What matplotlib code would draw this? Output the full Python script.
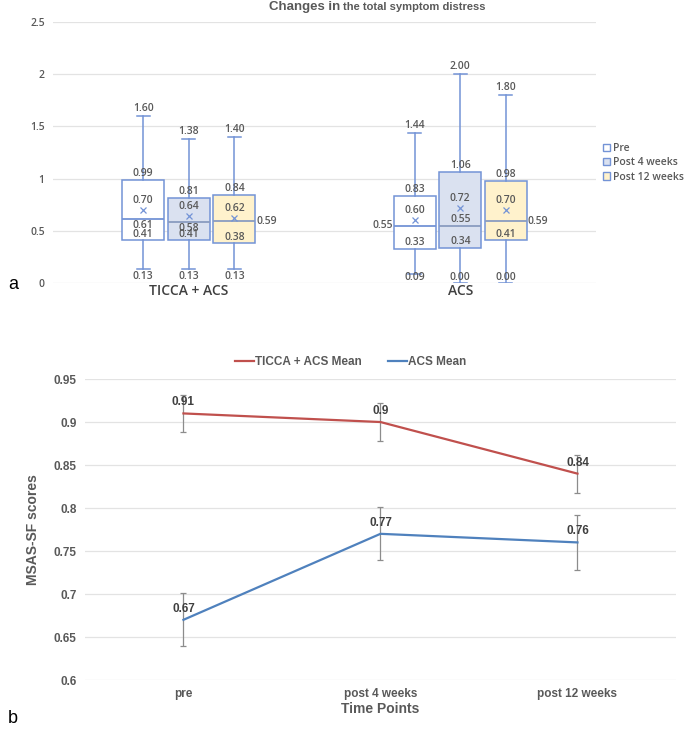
import numpy as np
import matplotlib
matplotlib.use('Agg')
import matplotlib.pyplot as plt
from matplotlib.patches import Patch
from matplotlib.lines import Line2D

# --- panel a: box plots ---
groups = ['TICCA + ACS', 'ACS']
series = ['Pre', 'Post 4 weeks', 'Post 12 weeks']
mins = [[0.13, 0.13, 0.13], [0.09, 0.00, 0.00]]
q1s = [[0.41, 0.41, 0.38], [0.33, 0.34, 0.41]]
medians = [[0.61, 0.58, 0.59], [0.55, 0.55, 0.59]]
q3s = [[0.99, 0.81, 0.84], [0.83, 1.06, 0.98]]
maxs = [[1.60, 1.38, 1.40], [1.44, 2.00, 1.80]]
means = [[0.70, 0.64, 0.62], [0.60, 0.72, 0.70]]
# where the median label goes: below / right / left / above
median_pos = [['below', 'below', 'right'], ['left', 'above', 'right']]

# --- panel b: mean lines ---
time_points = ['pre', 'post 4 weeks', 'post 12 weeks']
ticca_mean = [0.91, 0.90, 0.84]
ticca_err = [0.022, 0.022, 0.022]
acs_mean = [0.67, 0.77, 0.76]
acs_err = [0.031, 0.031, 0.032]
mean_labels_ticca = ['0.91', '0.9', '0.84']
mean_labels_acs = ['0.67', '0.77', '0.76']

edge = '#7393D6'
fills = ['white', '#DAE1F0', '#FFF2CC']
gray = '#595959'
grid_c = '#E3E3E3'
kfont = 'Open Sans'
kw_weight = 'semibold'

fig = plt.figure(figsize=(6.85, 7.33), dpi=100)

ax = fig.add_axes([0.0774, 0.6139, 0.7927, 0.3561])
width = 0.155
step = 0.168
for g in range(len(groups)):
    for s in range(len(series)):
        x = g + 0.5 + (s - 1) * step
        stats = [dict(med=medians[g][s], q1=q1s[g][s], q3=q3s[g][s],
                      whislo=mins[g][s], whishi=maxs[g][s], mean=means[g][s], fliers=[])]
        ax.bxp(stats, positions=[x], widths=width, showmeans=True, patch_artist=True,
               capwidths=0.048,
               boxprops=dict(facecolor=fills[s], edgecolor=edge, linewidth=1.1),
               whiskerprops=dict(color=edge, linewidth=1.1),
               capprops=dict(color=edge, linewidth=1.1),
               medianprops=dict(color=edge if s == 0 else '#8A9CC0', linewidth=1.3),
               meanprops=dict(marker='x', markeredgecolor=edge, markersize=4.5, markeredgewidth=0.9))
        kw = dict(fontsize=7.5, color=gray, fontweight=kw_weight, ha='center', family=kfont)
        ax.text(x, maxs[g][s] + 0.02, f'{maxs[g][s]:.2f}', va='bottom', **kw)
        ax.text(x, q3s[g][s] + 0.01, f'{q3s[g][s]:.2f}', va='bottom', **kw)
        ax.text(x, means[g][s] + 0.04, f'{means[g][s]:.2f}', va='bottom', **kw)
        ax.text(x, q1s[g][s] + 0.005, f'{q1s[g][s]:.2f}', va='bottom', **kw)
        ax.text(x, max(mins[g][s] - 0.07, 0.05), f'{mins[g][s]:.2f}', va='center', **kw)
        m = medians[g][s]
        p = median_pos[g][s]
        kw2 = dict(kw)
        if p == 'below':
            ax.text(x, m - 0.01, f'{m:.2f}', va='top', **kw2)
        elif p == 'above':
            ax.text(x, m + 0.01, f'{m:.2f}', va='bottom', **kw2)
        elif p == 'right':
            kw2['ha'] = 'left'
            ax.text(x + width / 2 + 0.003, m, f'{m:.2f}', va='center', **kw2)
        else:
            kw2['ha'] = 'right'
            ax.text(x - width / 2 - 0.003, m, f'{m:.2f}', va='center', **kw2)

ax.set_xlim(0, 2)
ax.set_ylim(0, 2.5)
ax.set_yticks(np.arange(0, 2.51, 0.5))
ax.set_yticklabels(['0', '0.5', '1', '1.5', '2', '2.5'], fontsize=7.5, color=gray,
                   fontweight=kw_weight, family=kfont)
ax.set_xticks([0.5, 1.5])
ax.set_xticklabels(groups, fontsize=10, color='#404040', fontweight=kw_weight, family=kfont)
ax.tick_params(length=0, pad=6)
ax.tick_params(axis='x', pad=1)
ax.grid(axis='y', color=grid_c, linewidth=0.9)
ax.set_axisbelow(True)
for sp in ax.spines.values():
    sp.set_visible(False)
fig.text(0.497, 0.99, 'Changes in', fontsize=9.5, color=gray, fontweight='bold',
         ha='right', va='center', family='Liberation Sans')
fig.text(0.501, 0.99, 'the total symptom distress', fontsize=8, color=gray, fontweight='bold',
         ha='left', va='center', family='Liberation Sans')
handles = [Patch(facecolor=fills[i], edgecolor=edge, linewidth=1) for i in range(3)]
leg = ax.legend(handles, series, loc='center left', bbox_to_anchor=(0.995, 0.46), frameon=False,
                prop=dict(size=7.5, weight=kw_weight, family=kfont),
                handlelength=0.7, handleheight=0.7, handletextpad=0.3, labelspacing=0.3)
for t in leg.get_texts():
    t.set_color(gray)
fig.text(0.012, 0.612, 'a', fontsize=13, va='center', family='Liberation Sans')

# --- panel b ---
bx = fig.add_axes([0.124, 0.0723, 0.8628, 0.4106])
xs = np.arange(len(time_points)) + 0.5
red = '#C0504D'
blue = '#4F81BD'
bx.errorbar(xs, ticca_mean, yerr=ticca_err, color=red, linewidth=1.6, ecolor='#8C8C8C',
            elinewidth=0.9, capsize=2.5, capthick=0.9)
bx.errorbar(xs, acs_mean, yerr=acs_err, color=blue, linewidth=1.6, ecolor='#8C8C8C',
            elinewidth=0.9, capsize=2.5, capthick=0.9)
for xv, yv, lab in zip(xs, ticca_mean, mean_labels_ticca):
    bx.annotate(lab, (xv, yv), xytext=(0, 8), textcoords='offset points', ha='center',
                va='center', fontsize=8.5, fontweight='bold', color='#404040', family='Liberation Sans')
for xv, yv, lab in zip(xs, acs_mean, mean_labels_acs):
    bx.annotate(lab, (xv, yv), xytext=(0, 8), textcoords='offset points', ha='center',
                va='center', fontsize=8.5, fontweight='bold', color='#404040', family='Liberation Sans')
bx.set_xlim(0, 3)
bx.set_ylim(0.6, 0.95)
bx.set_yticks(np.arange(0.6, 0.951, 0.05))
bx.set_yticklabels(['0.6', '0.65', '0.7', '0.75', '0.8', '0.85', '0.9', '0.95'], fontsize=8.5,
                   color=gray, fontweight='bold', family='Liberation Sans')
bx.set_xticks(xs)
bx.set_xticklabels(time_points, fontsize=8.5, color=gray, fontweight='bold', family='Liberation Sans')
bx.tick_params(length=0, pad=6)
bx.grid(axis='y', color=grid_c, linewidth=0.9)
bx.set_axisbelow(True)
for sp in bx.spines.values():
    sp.set_visible(False)
bx.set_xlabel('Time Points', fontsize=10, color=gray, fontweight='bold', family='Liberation Sans',
              labelpad=1)
bx.set_ylabel('MSAS-SF scores', fontsize=10, color=gray, fontweight='bold', family='Liberation Sans',
              labelpad=10)
lh = [Line2D([], [], color=red, linewidth=1.6), Line2D([], [], color=blue, linewidth=1.6)]
leg2 = bx.legend(lh, ['TICCA + ACS Mean', 'ACS Mean'], loc='lower center',
                 bbox_to_anchor=(0.45, 1.0), ncol=2, frameon=False,
                 prop=dict(size=8.5, weight='bold', family='Liberation Sans'),
                 handlelength=1.6, handletextpad=0.1, columnspacing=2.2)
for t in leg2.get_texts():
    t.set_color(gray)
fig.text(0.012, 0.02, 'b', fontsize=13, va='center', family='Liberation Sans')

fig.savefig('out.png', dpi=100)
